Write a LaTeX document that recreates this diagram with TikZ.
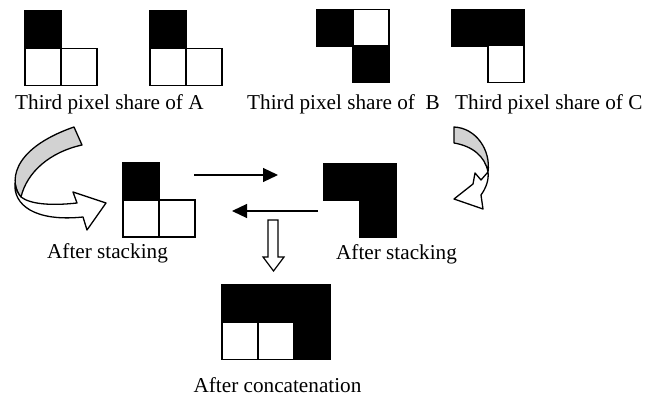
\documentclass[tikz,border=0pt]{standalone}
\usepackage{fontspec}
\setmainfont{Liberation Serif}
\usetikzlibrary{arrows.meta}
\begin{document}
\begin{tikzpicture}[x=1pt,y=-1pt,
  cellB/.style={draw=black, fill=black, line width=1.3pt, minimum width=36pt, minimum height=37pt, inner sep=0pt, outer sep=0pt},
  cellW/.style={cellB, fill=white},
  lbl/.style={font=\fontsize{21.2}{25}\selectfont, inner sep=0pt},
  conn/.style={line width=1.2pt, -{Triangle[length=15pt,width=14pt]}},
  ribbon/.style={draw=black, line width=1.3pt, line join=round}]
\useasboundingbox[fill=white] (0,0) rectangle (653,398);

% share of A (two)
\node[cellB] (a1t) at (43,29) {};
\node[cellW] (a1l) at (43,67) {};
\node[cellW] (a1r) at (79,67) {};
\node[cellB] (a2t) at (168,29) {};
\node[cellW] (a2l) at (168,67) {};
\node[cellW] (a2r) at (204,67) {};
% share of B
\node[cellB] (bt1) at (335,28) {};
\node[cellW] (bt2) at (371,28) {};
\node[cellB] (bb2) at (371,64) {};
% share of C
\node[cellB] (ct1) at (470,28) {};
\node[cellB] (ct2) at (506,28) {};
\node[cellW] (cb2) at (506,64) {};
% labels
\node[lbl, anchor=base west] (la) at (15,110) {Third pixel share of A};
\node[lbl, anchor=base west] (lb) at (247,110) {Third pixel share of\ \ B};
\node[lbl, anchor=base west] (lc) at (455,110) {Third pixel share of C};

% stacking 1
\node[cellB] (s1t) at (141,181) {};
\node[cellW] (s1l) at (141,218.5) {};
\node[cellW] (s1r) at (177,218.5) {};
% stacking 2
\node[cellB] (s2t1) at (342,182) {};
\node[cellB] (s2t2) at (378,182) {};
\node[cellB] (s2b2) at (378,218.5) {};
\node[lbl, anchor=base] (ls1) at (107.5,258) {After stacking};
\node[lbl, anchor=base] (ls2) at (396.5,259) {After stacking};

% concatenation
\node[cellB] (k1) at (240,303) {};
\node[cellB] (k2) at (276,303) {};
\node[cellB] (k3) at (312,303) {};
\node[cellW] (k4) at (240,341) {};
\node[cellW] (k5) at (276,341) {};
\node[cellB] (k6) at (312,341) {};
\node[lbl, anchor=base] (lcat) at (277.5,392) {After concatenation};

% straight arrows
\coordinate (r1) at (194,175); \coordinate (r2) at (278,175);
\coordinate (l1) at (318,211); \coordinate (l2) at (232,211);
\draw[conn] (r1) -- (r2);
\draw[conn] (l1) -- (l2);
% hollow down arrow
\filldraw[ribbon, fill=white, line width=1.2pt, line join=miter] (268,220) -- (278,220) -- (278,257) -- (284,257) -- (273.5,271) -- (263,257) -- (268,257) -- cycle;

% left curved arrow
\filldraw[ribbon, fill=gray!35] (74,127) -- (82,145) .. controls (50,152) and (27,172) .. (21,197) .. controls (10,185) and (8,150) .. (74,127) -- cycle;
\filldraw[ribbon, fill=white] (15,183) .. controls (13,205) and (35,222) .. (83,217) -- (87,230) -- (106,203) -- (73,192) -- (77,203) .. controls (50,206) and (30,204) .. (21,197) .. controls (18,194) and (16,189) .. (15,183) -- cycle;

% right curved arrow
\filldraw[ribbon, fill=gray!35] (454,127) -- (454,143) .. controls (472,146) and (485,156) .. (488,172) .. controls (491,150) and (476,128) .. (454,127) -- cycle;
\filldraw[ribbon, fill=white] (488,172) -- (481,180) -- (475,173) -- (473,184) -- (454,199) -- (483,209) -- (481,195) .. controls (486,188) and (489,180) .. (488,172) -- cycle;
\end{tikzpicture}
\end{document}
